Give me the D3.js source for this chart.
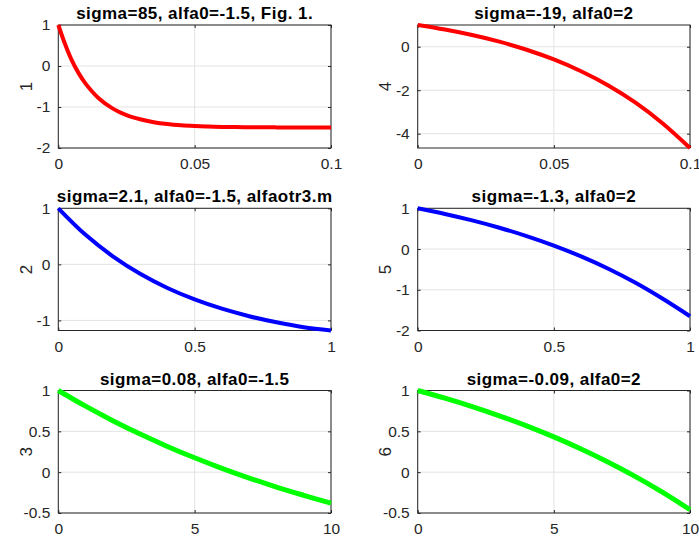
<!DOCTYPE html>
<html>
<head>
<meta charset="utf-8">
<script src="https://cdn.jsdelivr.net/npm/d3@7"></script>
<style>
  html, body { margin: 0; padding: 0; background: #ffffff; }
  svg { display: block; font-family: "Liberation Sans", Arial, Helvetica, sans-serif; }
</style>
</head>
<body>
<svg id="chart" width="699" height="538"></svg>
<script>
// ---------- data ----------
const titles = [
  "sigma=85, alfa0=-1.5, Fig. 1.",
  "sigma=-19, alfa0=2",
  "sigma=2.1, alfa0=-1.5, alfaotr3.m",
  "sigma=-1.3, alfa0=2",
  "sigma=0.08, alfa0=-1.5",
  "sigma=-0.09, alfa0=2"
];
const yLabels = ["1", "4", "2", "5", "3", "6"];
const lineColors = ["#ff0000", "#ff0000", "#0000ff", "#0000ff", "#00ff00", "#00ff00"];

const x1 = [0, 0.0025, 0.005, 0.0075, 0.01, 0.015, 0.02, 0.025, 0.03, 0.035, 0.04, 0.045, 0.05, 0.055, 0.06, 0.065, 0.07, 0.075, 0.08, 0.085, 0.09, 0.095, 0.1];
const y1 = [1, 0.53, 0.13, -0.18, -0.43, -0.80, -1.04, -1.20, -1.30, -1.37, -1.415, -1.445, -1.464, -1.477, -1.485, -1.490, -1.493, -1.496, -1.497, -1.498, -1.499, -1.499, -1.50];

const x2 = [0, 0.01, 0.02, 0.03, 0.04, 0.05, 0.06, 0.07, 0.08, 0.09, 0.1];
const y2 = [1, 0.791, 0.538, 0.232, -0.138, -0.586, -1.127, -1.781, -2.572, -3.529, -4.66];

const x3 = [0, 0.1, 0.2, 0.3, 0.4, 0.5, 0.6, 0.7, 0.8, 0.9, 1];
const y3 = [1, 0.526, 0.143, -0.168, -0.421, -0.625, -0.791, -0.925, -1.034, -1.122, -1.18];

const x4 = [0, 0.1, 0.2, 0.3, 0.4, 0.5, 0.6, 0.7, 0.8, 0.9, 1];
const y4 = [1, 0.861, 0.703, 0.523, 0.318, 0.084, -0.181, -0.484, -0.829, -1.222, -1.65];

const x5 = [0, 1, 2, 3, 4, 5, 6, 7, 8, 9, 10];
const y5 = [1, 0.808, 0.630, 0.466, 0.315, 0.176, 0.047, -0.072, -0.182, -0.283, -0.38];

const x6 = [0, 1, 2, 3, 4, 5, 6, 7, 8, 9, 10];
const y6 = [1, 0.906, 0.803, 0.690, 0.567, 0.432, 0.284, 0.122, -0.054, -0.248, -0.46];

const xDomains = [[0, 0.1], [0, 0.1], [0, 1], [0, 1], [0, 10], [0, 10]];
const yDomains = [[-2, 1], [-4.66, 1], [-1.18, 1], [-2, 1], [-0.5, 1], [-0.5, 1]];
const xTicks = [[0, 0.05, 0.1], [0, 0.05, 0.1], [0, 0.5, 1], [0, 0.5, 1], [0, 5, 10], [0, 5, 10]];
const yTicks = [[-2, -1, 0, 1], [-4, -2, 0], [-1, 0, 1], [-2, -1, 0, 1], [-0.5, 0, 0.5, 1], [-0.5, 0, 0.5, 1]];

const xs = [x1, x2, x3, x4, x5, x6];
const ys = [y1, y2, y3, y4, y5, y6];

// ---------- layout ----------
const colLeft = [58.3, 417.7];
const colRight = [331, 690];
const rowTop = [25, 208.3, 390.5];
const rowBottom = [148, 330.5, 513];
const lineWidths = [4, 4, 4, 4, 5, 5];

const svg = d3.select("#chart");
const axisColor = "#262626";
const gridColor = "#e3e3e3";
const fmt = v => String(v);

for (let i = 0; i < 6; i++) {
  const col = i % 2, row = Math.floor(i / 2);
  const L = colLeft[col], R = colRight[col], T = rowTop[row], B = rowBottom[row];
  const xS = d3.scaleLinear().domain(xDomains[i]).range([L, R]);
  const yS = d3.scaleLinear().domain(yDomains[i]).range([B, T]);
  const g = svg.append("g");

  // grid
  g.selectAll(".gx").data(xTicks[i]).enter().append("line")
    .attr("x1", d => xS(d)).attr("x2", d => xS(d)).attr("y1", T).attr("y2", B)
    .attr("stroke", gridColor).attr("stroke-width", 1);
  g.selectAll(".gy").data(yTicks[i]).enter().append("line")
    .attr("x1", L).attr("x2", R).attr("y1", d => yS(d)).attr("y2", d => yS(d))
    .attr("stroke", gridColor).attr("stroke-width", 1);

  // axes (ticks inward) via d3 axes
  const tl = 3;
  const axB = d3.axisBottom(xS).tickValues(xTicks[i]).tickFormat(fmt).tickSizeInner(-tl).tickSizeOuter(0).tickPadding(10);
  const axT = d3.axisTop(xS).tickValues(xTicks[i]).tickFormat("").tickSizeInner(-tl).tickSizeOuter(0);
  const axL = d3.axisLeft(yS).tickValues(yTicks[i]).tickFormat(fmt).tickSizeInner(-tl).tickSizeOuter(0).tickPadding(8);
  const axR = d3.axisRight(yS).tickValues(yTicks[i]).tickFormat("").tickSizeInner(-tl).tickSizeOuter(0);

  const styleAxis = sel => {
    sel.select(".domain").remove();
    sel.selectAll("line").attr("stroke", axisColor);
    sel.selectAll("text").attr("fill", axisColor).style("font-size", "15.5px")
      .style("font-family", '"Liberation Sans", Arial, sans-serif');
  };
  g.append("g").attr("transform", `translate(0,${B})`).call(axB).call(styleAxis);
  g.append("g").attr("transform", `translate(0,${T})`).call(axT).call(styleAxis);
  g.append("g").attr("transform", `translate(${L},0)`).call(axL).call(styleAxis);
  g.append("g").attr("transform", `translate(${R},0)`).call(axR).call(styleAxis);

  // box
  g.append("rect").attr("x", L).attr("y", T).attr("width", R - L).attr("height", B - T)
    .attr("fill", "none").attr("stroke", axisColor).attr("stroke-width", 1);

  // line
  const pts = xs[i].map((x, k) => [x, ys[i][k]]);
  const line = d3.line().x(d => xS(d[0])).y(d => yS(d[1])).curve(d3.curveCatmullRom.alpha(0.5));
  g.append("path").datum(pts).attr("d", line)
    .attr("fill", "none").attr("stroke", lineColors[i]).attr("stroke-width", lineWidths[i])
    .attr("stroke-linejoin", "round");

  // title
  g.append("text").attr("x", (L + R) / 2).attr("y", T - 6)
    .attr("text-anchor", "middle").attr("font-weight", "bold").attr("fill", "#000")
    .style("font-size", "17px").style("letter-spacing", "0.45px")
    .text(titles[i]);

  // y label
  g.append("text").attr("transform", `translate(${L - 26.5},${(T + B) / 2}) rotate(-90)`)
    .attr("text-anchor", "middle").attr("fill", axisColor)
    .style("font-size", "17px")
    .text(yLabels[i]);
}
</script>
</body>
</html>
